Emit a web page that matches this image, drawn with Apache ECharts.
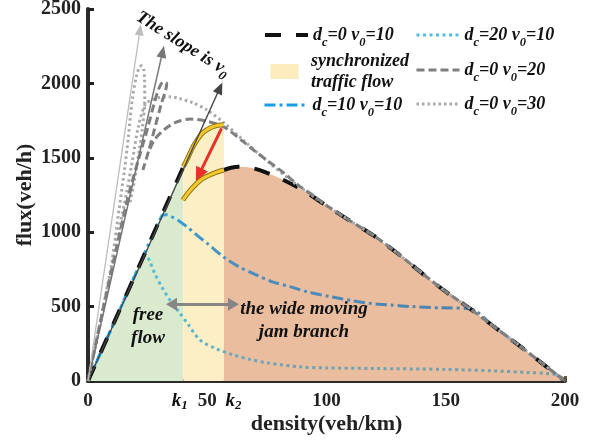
<!DOCTYPE html>
<html><head><meta charset="utf-8">
<script src="https://cdn.jsdelivr.net/npm/echarts@6/dist/echarts.min.js"></script>
<style>html,body{margin:0;padding:0;background:#fff}#c{width:595px;height:441px}</style>
</head><body><div id="c"></div>
<script>
const FONT = "'Liberation Serif','Times New Roman',serif";

// ---------- data: [density (veh/km), flux (veh/h)] ----------
const xTicks = [0, 50, 100, 150, 200];
const kLabelAt = [38.5, 61];          // positions of the k1 / k2 labels
const kNames = ['1', '2'];
const freeFlowRegion = [[0,0],[40,1440]];
const syncRegionTop = [[40,1440],[42,1505],[44,1573],[46,1625],[48,1667],[50,1690],[52,1707],[54.5,1718],[57,1722]];
const syncLowerArc = [[39.8,1216],[42,1265],[45.6,1328],[48,1360],[51,1384],[54,1404],[57,1418]];
const base10Free = [[0,0],[40,1440]];
const base10Jam = [[57,1418],[60,1433],[63,1440],[67,1436],[72,1417],[80,1366],[90,1283],[100,1178],[110,1075],[120,975],[130,855],[140,725],[150,600],[160,488],[170,368],[180,248],[190,124],[200,0]];
const dc10 = [[0,0],[10,360],[20,720],[31,1110],[33,1118],[35,1105],[38.6,1071],[42,1030],[46,975],[50,925],[56.7,835],[63,770],[70.7,712],[77,668],[84.7,634],[92,600],[101.5,567],[110,542],[118,522],[127,510],[136,500],[147,492],[160,486],[170,368],[180,248],[190,124],[200,0]];
const dc20 = [[0,0],[12,430],[23,828],[24.3,848],[26,800],[28,723],[31,630],[34.5,540],[38.6,455],[42,380],[47,275],[54,215],[61,175],[68,145],[75,122],[89,95],[100,88],[120,84],[150,78],[170,68],[185,57],[192,51],[197,38],[200,0]];
const v20Free = [[0,0],[6,460],[12,900],[17,1250],[21,1480],[25,1700],[28,1880],[30,1976],[31.5,2010],[33,2000],[30.5,1850],[28,1700],[25.5,1550],[23,1418]];
const v20Jam = [[26,1560],[28,1625],[32,1690],[37,1740],[43,1760],[50,1745],[57,1707],[65,1610],[70,1545],[76,1472],[82,1400],[88,1318],[95,1240],[100,1180],[110,1075],[120,975],[130,855],[140,725],[150,600],[160,488],[170,368],[180,248],[190,124],[200,0]];
const v30Free = [[0,0],[6,450],[10,800],[13,1150],[15.3,1420],[17,1650],[18.5,1888],[20.3,2050],[21.5,2105],[22.5,2118],[23.3,2098],[23.7,2030],[23.8,1888],[22.8,1700],[21.5,1552],[19.5,1350],[17.6,1200]];
const v30Jam = [[0,0],[9,700],[13.5,1050],[16.4,1284],[18.5,1470],[21,1700],[24,1860],[27,1890],[30,1905],[34,1910],[38,1900],[44,1870],[50,1820],[57,1735],[65,1620],[75,1480],[85,1350],[95,1235],[100,1180],[110,1075],[120,975],[130,855],[140,725],[150,600],[160,488],[170,368],[180,248],[190,124],[200,0]];
const slopeTips = [[55.3,1970],[31.3,2213],[21.8,2360]];   // v0 = 10, 20, 30
const redArrow = [[56,1698],[46.5,1385]];
const phaseArrow = [[35,515],[61,515]];

const N_BASE = 'dc=0 v0=10', N_DC10 = 'dc=10 v0=10', N_DC20 = 'dc=20 v0=10',
      N_V20 = 'dc=0 v0=20', N_V30 = 'dc=0 v0=30', N_SYNC = 'synchronized traffic flow';

const chart = echarts.init(document.getElementById('c'), null, {width:595, height:441});

const lg = (stops) => new echarts.graphic.LinearGradient(0,0,1,0, stops.map(s=>({offset:s[0], color:s[1]})));
const blueGrad = lg([[0,'#1a9fea'],[0.14,'#2ea6de'],[0.3,'#4b8fc0'],[1,'#4a7fa8']]);
const tealGrad = lg([[0,'#40bfe6'],[0.15,'#56bad4'],[0.4,'#6aa5b6'],[1,'#74a0ac']]);

const base = {type:'line', symbol:'none', showSymbol:false, silent:true, animation:false, z:2};
function curve(name, data, color, width, dash, smooth, extra) {
  return Object.assign({}, base, {name, data, smooth: smooth, color: color,
    lineStyle:{color, width, type: dash, cap:'butt'}}, extra || {});
}
function area(name, data, color, smooth) {
  return Object.assign({}, base, {name, data, smooth, z:1, color, itemStyle:{color},
    lineStyle:{width:0}, areaStyle:{color, opacity:1}});
}

const iStyle = {fontFamily:FONT, fontWeight:'bold', fontStyle:'italic', color:'#111'};
const legendRich = {
  i: Object.assign({fontSize:18, lineHeight:28}, iStyle),
  s: Object.assign({fontSize:12.5, lineHeight:14, verticalAlign:'bottom'}, iStyle),
  t: Object.assign({fontSize:18, lineHeight:21}, iStyle)
};
function legendText(name) {
  const m = name.match(/^dc=(\d+) v0=(\d+)$/);
  if (m) return '{i|d}{s|c}{i|=' + m[1] + ' v}{s|0}{i|=' + m[2] + '}';
  return name.split(' ').length === 3 ? '{t|synchronized}\n{t|traffic flow}' : name;
}
function legendRow(name, left, top, opts) {
  return Object.assign({data:[name], left, top, orient:'vertical', padding:0, itemWidth:43, itemHeight:14,
    selectedMode:false, formatter: legendText, textStyle:{rich: legendRich},
    itemStyle:{opacity:0, borderWidth:0}}, opts || {});
}

const option = {
  backgroundColor:'#fff',
  animation:false,
  grid:{left:88, right:30, top:9, bottom:60, outerBoundsMode:'none'},
  xAxis:{type:'value', min:0, max:200, interval:50,
    name:'density(veh/km)', nameLocation:'middle', nameGap:32, nameMoveOverlap:false,
    nameTextStyle:{fontFamily:FONT, fontWeight:'bold', fontSize:22, color:'#222'},
    axisLine:{lineStyle:{color:'#2b2b2b', width:4}},
    axisTick:{inside:true, length:5, lineStyle:{color:'#4a2a10', width:3, opacity:0.8}},
    splitLine:{show:false},
    axisLabel:{margin:9, customValues:[xTicks[0], kLabelAt[0], xTicks[1], kLabelAt[1], xTicks[2], xTicks[3], xTicks[4]],
      formatter:(v)=>{ const k = kLabelAt.indexOf(v); return k >= 0 ? '{k|k}{s|' + kNames[k] + '}' : '{n|' + v + '}'; },
      rich:{
        n:{fontFamily:FONT, fontWeight:'bold', fontSize:19, lineHeight:22, color:'#222'},
        k:{fontFamily:FONT, fontWeight:'bold', fontStyle:'italic', fontSize:19, lineHeight:22, color:'#111'},
        s:{fontFamily:FONT, fontWeight:'bold', fontStyle:'italic', fontSize:13, lineHeight:14, verticalAlign:'bottom', color:'#111'}
      }}
  },
  yAxis:{type:'value', min:0, max:2500, interval:500,
    name:'flux(veh/h)', nameLocation:'middle', nameGap:52, nameMoveOverlap:false,
    nameTextStyle:{fontFamily:FONT, fontWeight:'bold', fontSize:22, color:'#222'},
    axisLine:{show:true, lineStyle:{color:'#2b2b2b', width:4}},
    axisTick:{show:true, inside:true, length:6, lineStyle:{color:'#222', width:3}},
    splitLine:{show:false},
    axisLabel:{margin:7, fontFamily:FONT, fontWeight:'bold', fontSize:20, color:'#222', formatter:(v)=>String(v)}
  },
  legend:[
    legendRow(N_BASE, 263, 26, {lineStyle:{width:4}}),
    legendRow(N_SYNC, 270.5, 52, {itemHeight:15, icon:'path://M0 0H28V15H0Z', symbolKeepAspect:true,
      itemStyle:{color:'#fcebbd', opacity:1, borderWidth:0}}),
    legendRow(N_DC10, 263, 96, {lineStyle:{width:3, color:'#1a9be8'}}),
    legendRow(N_DC20, 415, 26, {lineStyle:{width:3, color:'#4fbde2'}}),
    legendRow(N_V20, 415, 61, {lineStyle:{width:3}}),
    legendRow(N_V30, 415, 95, {lineStyle:{width:3}})
  ],
  series:[
    area('free flow region', freeFlowRegion, '#d9eacf', false),
    area(N_SYNC, syncRegionTop, '#fdefc5', 0.3),
    area('jam region', base10Jam, '#e9bd9e', 0.3),
    curve(N_DC20, dc20, tealGrad, 3, [3,3.5], 0.3),
    curve(N_DC10, dc10, blueGrad, 3, [11,4,3,4], 0.3),
    curve(N_BASE, base10Free, '#111', 4, [16,15], false),
    curve(N_BASE, base10Jam, '#111', 4, [16,15], 0.3),
    curve(N_V30, v30Free, '#a9a9a9', 3, [2.5,3], 0.3),
    curve(N_V30, v30Jam, '#a9a9a9', 3, [2.5,3], 0.3),
    curve(N_V20, v20Free, '#7f7f7f', 3, [8,4], 0.3),
    curve(N_V20, v20Jam, '#7f7f7f', 3, [8,4], 0.3),
    curve('sync arc upper edge', syncRegionTop, '#8f7415', 5, 'solid', 0.3, {z:3}),
    curve('sync arc upper', syncRegionTop, '#f5c92e', 3, 'solid', 0.3, {z:3}),
    curve('sync arc lower edge', syncLowerArc, '#8f7415', 5, 'solid', 0.3, {z:3}),
    curve('sync arc lower', syncLowerArc, '#f5c92e', 3, 'solid', 0.3, {z:3}),
    Object.assign({}, base, {name:'arrows', data:[], z:4,
      markLine:{silent:true, animation:false, label:{show:false}, emphasis:{disabled:true},
        symbol:['none','triangle'],
        data:[
          [{coord:[0,0], symbol:'none', lineStyle:{color:'#444', width:1.3, type:'solid'}},
           {coord:slopeTips[0], symbol:'triangle', symbolSize:[10,12]}],
          [{coord:[0,0], symbol:'none', lineStyle:{color:'#777', width:1.5, type:'solid'}},
           {coord:slopeTips[1], symbol:'triangle', symbolSize:[10,12]}],
          [{coord:[0,0], symbol:'none', lineStyle:{color:'#bcbcbc', width:1.3, type:'solid'}},
           {coord:slopeTips[2], symbol:'triangle', symbolSize:[9,11]}],
          [{coord:redArrow[0], symbol:'none', lineStyle:{color:'#e8302a', width:3, type:'solid'}},
           {coord:redArrow[1], symbol:'triangle', symbolSize:[13,14]}],
          [{coord:phaseArrow[0], symbol:'triangle', symbolSize:[13,11], lineStyle:{color:'#868686', width:3, type:'solid'}},
           {coord:phaseArrow[1], symbol:'triangle', symbolSize:[13,11]}]
        ]}})
  ],
  graphic:[
    {type:'text', x:148, y:327, z:10, silent:true, style:{text:'free\nflow', fontFamily:FONT, fontWeight:'bold', fontStyle:'italic', fontSize:19, lineHeight:23, fill:'#111', align:'center', verticalAlign:'middle'}},
    {type:'text', x:304, y:321, z:10, silent:true, style:{text:'the wide moving\njam branch', fontFamily:FONT, fontWeight:'bold', fontStyle:'italic', fontSize:19, lineHeight:23, fill:'#111', align:'center', verticalAlign:'middle'}},
    {type:'text', x:183, y:44, rotation:-0.56, z:10, silent:true, style:{text:'{t|The slope is v}{s|0}', align:'center', verticalAlign:'middle',
      rich:{t:Object.assign({fontSize:18, lineHeight:26}, iStyle, {fill:'#111'}), s:Object.assign({fontSize:13, lineHeight:14, verticalAlign:'bottom'}, iStyle, {fill:'#111'})}}}
  ]
};
chart.setOption(option);
</script></body></html>
